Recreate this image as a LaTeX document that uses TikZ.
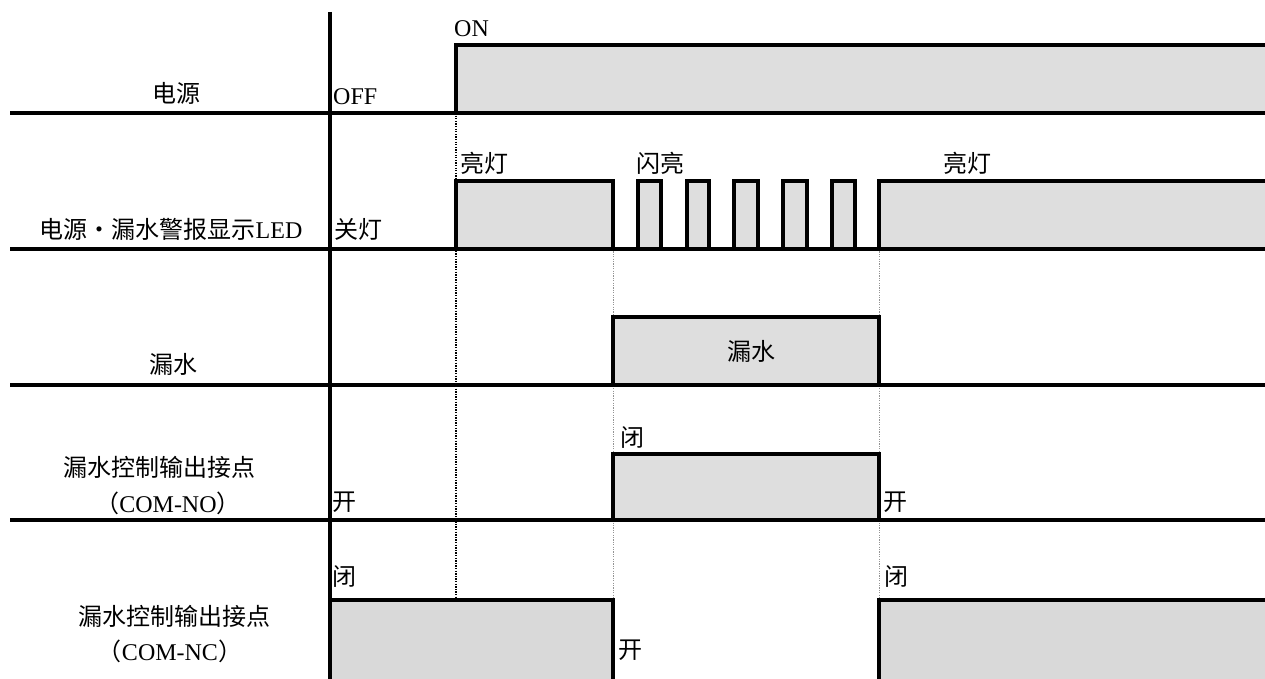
\documentclass[tikz,border=0pt]{standalone}
\usepackage{fontspec}
\setmainfont{Liberation Serif}
\newfontfamily\cjk{Noto Sans CJK SC}
\newcommand{\zh}[1]{{\cjk #1}}
\definecolor{sigfill}{HTML}{DEDEDE}
\definecolor{ncfill}{HTML}{D9D9D9}
\tikzset{
  sep/.style={line width=3.3pt},
  sig/.style={line width=3.3pt, line join=miter},
  bdots/.style={line width=1.3pt, dash pattern=on 1.3pt off 1.3pt},
  gdots/.style={line width=1pt, gray!85, dash pattern=on 1.2pt off 1.2pt},
  lvl/.style={inner sep=0pt, anchor=base west, font=\fontsize{24}{28}\selectfont},
  ttl/.style={inner sep=0pt, anchor=base, font=\fontsize{24}{28}\selectfont}
}
\begin{document}
\begin{tikzpicture}[x=1pt,y=-1pt]
\useasboundingbox (0,0) rectangle (1265,679);
% fills
\fill[sigfill] (456,45) rectangle (1265,113);
\foreach \a/\b in {456/613,638/661,687/709,734/758,783/807,832/855,879/1265}
  \fill[sigfill] (\a,181) rectangle (\b,249);
\fill[sigfill] (613,317) rectangle (879,385);
\fill[sigfill] (613,454) rectangle (879,520);
\fill[ncfill] (330,600) rectangle (613,679);
\fill[ncfill] (879,600) rectangle (1265,679);
% dotted guides
\draw[bdots] (456,113) -- (456,600);
\draw[gdots] (613,249) -- (613,600);
\draw[gdots] (879,249) -- (879,600);
% separators and axis
\foreach \y in {113,249,385,520}
  \draw[sep] (10,\y) -- (1265,\y);
\draw[sep] (330,12) -- (330,679);
% signals
\draw[sig] (330,113) -- (456,113) -- (456,45) -- (1265,45);
\draw[sig] (330,249) -- (456,249) -- (456,181) -- (613,181) -- (613,249)
  -- (638,249) -- (638,181) -- (661,181) -- (661,249)
  -- (687,249) -- (687,181) -- (709,181) -- (709,249)
  -- (734,249) -- (734,181) -- (758,181) -- (758,249)
  -- (783,249) -- (783,181) -- (807,181) -- (807,249)
  -- (832,249) -- (832,181) -- (855,181) -- (855,249)
  -- (879,249) -- (879,181) -- (1265,181);
\draw[sig] (330,385) -- (613,385) -- (613,317) -- (879,317) -- (879,385) -- (1265,385);
\draw[sig] (330,520) -- (613,520) -- (613,454) -- (879,454) -- (879,520) -- (1265,520);
\draw[sig] (330,600) -- (613,600) -- (613,679);
\draw[sig] (879,679) -- (879,600) -- (1265,600);
% row titles
\node[ttl] (t1) at (176,103) {\zh{电源}};
\node[ttl] (t2) at (171,238) {\zh{电源・漏水警报显示}LED};
\node[ttl] (t3) at (173,373) {\zh{漏水}};
\node[ttl] (t4a) at (159,476) {\zh{漏水控制输出接点}};
\node[ttl] (t4b) at (168,512) {\zh{（}COM-NO\zh{）}};
\node[ttl] (t5a) at (174,625) {\zh{漏水控制输出接点}};
\node[ttl] (t5b) at (170,660) {\zh{（}COM-NC\zh{）}};
% level labels
\node[lvl] (on) at (454,37) {ON};
\node[lvl] (off) at (333,105) {OFF};
\node[lvl] (l1) at (460,172) {\zh{亮灯}};
\node[lvl] (l2) at (636,172) {\zh{闪亮}};
\node[lvl] (l3) at (943,172) {\zh{亮灯}};
\node[lvl] (l0) at (334,238) {\zh{关灯}};
\node[inner sep=0pt, font=\fontsize{24}{28}\selectfont] (lk) at (751,351) {\zh{漏水}};
\node[lvl] (c4) at (620,446) {\zh{闭}};
\node[lvl] (o4a) at (332,510) {\zh{开}};
\node[lvl] (o4b) at (883,510) {\zh{开}};
\node[lvl] (c5a) at (332,585) {\zh{闭}};
\node[lvl] (c5b) at (884,585) {\zh{闭}};
\node[lvl] (o5) at (618,658) {\zh{开}};
\end{tikzpicture}
\end{document}
